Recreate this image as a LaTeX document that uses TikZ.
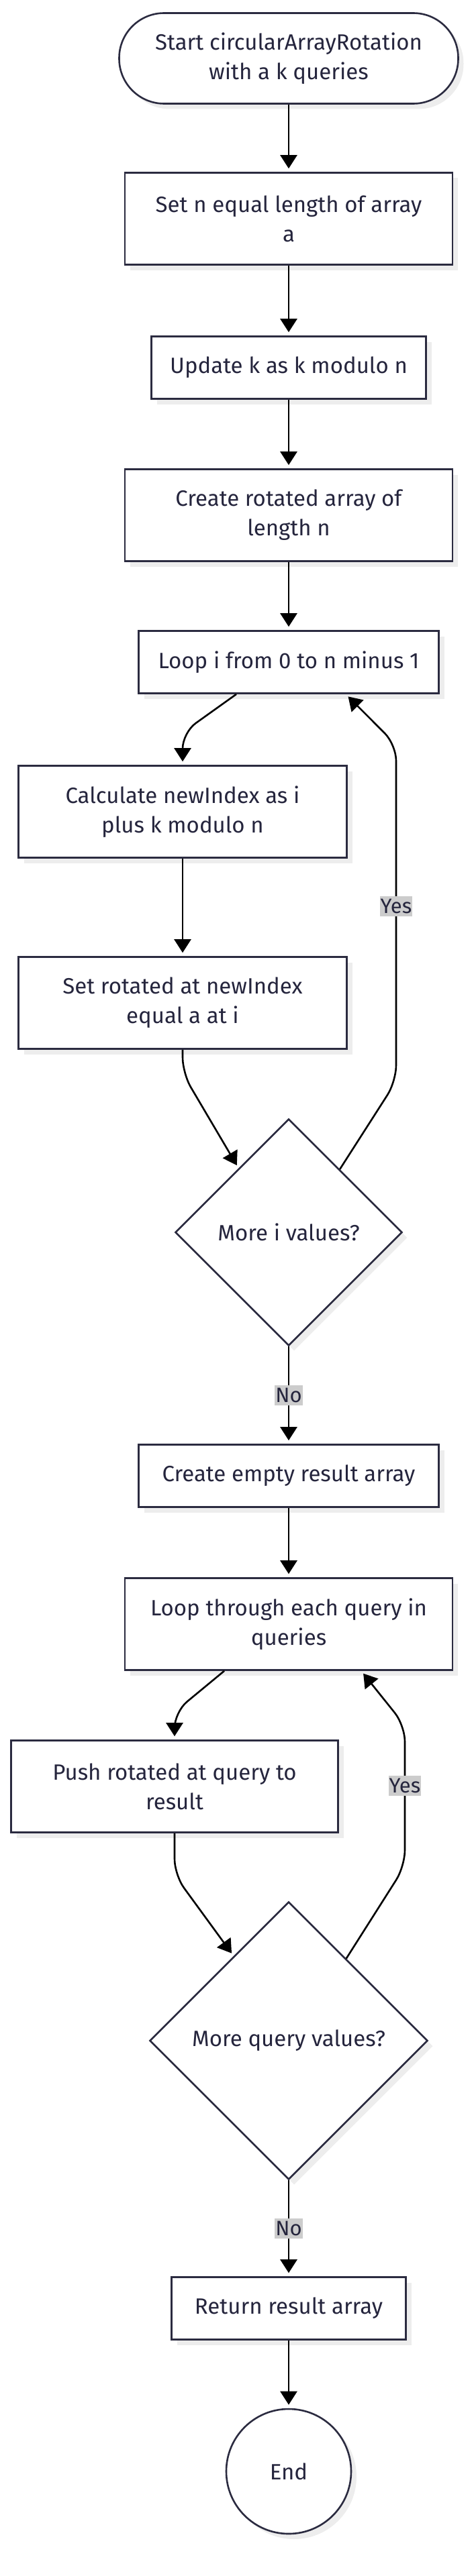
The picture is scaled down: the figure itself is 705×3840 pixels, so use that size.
\documentclass[tikz,border=0pt]{standalone}
\usepackage{fontspec}
\setmainfont{Fira Sans}
\usetikzlibrary{shapes.geometric,arrows.meta,shadows}
\definecolor{nodestroke}{HTML}{2B2B40}
\definecolor{nodetext}{HTML}{25253D}
\definecolor{lblbg}{HTML}{CCCCCC}
\tikzset{
  base/.style={draw=nodestroke, line width=2.6pt, fill=white, text=nodetext,
    font=\fontsize{33}{44}\selectfont, align=center,
    drop shadow={shadow xshift=8pt, shadow yshift=-8pt, fill=black!7, opacity=1}},
  proc/.style={base, rectangle, inner sep=0pt},
  term/.style={base, rectangle, rounded corners=67pt, inner sep=0pt},
  dec/.style={base, diamond, inner sep=0pt, aspect=1},
  endc/.style={base, circle, inner sep=0pt},
  flow/.style={draw=black, line width=2.6pt, -{Triangle[length=20pt,width=25pt]},
    shorten >=5pt, rounded corners=24pt},
  lbl/.style={fill=lblbg, text=nodetext, font=\fontsize{31}{40}\selectfont,
    inner xsep=1pt, inner ysep=4pt, rounded corners=0pt}
}
\begin{document}
\begin{tikzpicture}[x=1pt,y=-1pt]
\useasboundingbox (0,0) rectangle (705,3840);

\node[term, minimum width=505pt, minimum height=135pt] (start) at (430,87) {Start circularArrayRotation\\with a k queries};
\node[proc, minimum width=488pt, minimum height=137pt] (setn) at (430,326) {Set n equal length of array\\a};
\node[proc, minimum width=409pt, minimum height=93pt] (upd) at (430,548) {Update k as k modulo n};
\node[proc, minimum width=488pt, minimum height=137pt] (create) at (430,768) {Create rotated array of\\length n};
\node[proc, minimum width=447pt, minimum height=93pt] (loopi) at (430,987) {Loop i from 0 to n minus 1};
\node[proc, minimum width=489pt, minimum height=137pt] (calc) at (272,1210) {Calculate newIndex as i\\plus k modulo n};
\node[proc, minimum width=489pt, minimum height=137pt] (setrot) at (272,1495) {Set rotated at newIndex\\equal a at i};
\node[dec, minimum width=338pt, minimum height=338pt] (d1) at (430,1837) {More i values?};
\node[proc, minimum width=447pt, minimum height=93pt] (empty) at (430,2200) {Create empty result array};
\node[proc, minimum width=488pt, minimum height=137pt] (loopq) at (430,2421) {Loop through each query in\\queries};
\node[proc, minimum width=487pt, minimum height=137pt] (push) at (260,2663) {Push rotated at query to\\result};
\node[dec, minimum width=414pt, minimum height=414pt] (d2) at (430,3042) {More query values?};
\node[proc, minimum width=349pt, minimum height=93pt] (ret) at (430,3441) {Return result array};
\node[endc, minimum size=186pt] (end) at (430,3684) {End};

\coordinate (a1) at (272,1092);
\coordinate (a2) at (272,1600);
\coordinate (y1a) at (590,1612);
\coordinate (y1b) at (590,1110);
\coordinate (q1) at (260,2552);
\coordinate (q2) at (260,2795);
\coordinate (y2a) at (603,2782);
\coordinate (y2b) at (603,2572);

\draw[flow] (start) -- (setn);
\draw[flow] (setn) -- (upd);
\draw[flow] (upd) -- (create);
\draw[flow] (create) -- (loopi);
\draw[flow] ([xshift=-78pt]loopi.south) -- (a1) -- (calc.north);
\draw[flow] (calc) -- (setrot);
\draw[flow] (setrot.south) -- (a2) -- (d1.128);
\draw[flow] (d1.51) -- (y1a) -- node[lbl, pos=0.52] {Yes} (y1b) -- ([xshift=85pt]loopi.south);
\draw[flow] (d1.south) -- node[lbl] {No} (empty.north);
\draw[flow] (empty) -- (loopq);
\draw[flow] ([xshift=-96pt]loopq.south) -- (q1) -- (push.north);
\draw[flow] (push.south) -- (q2) -- (d2.123);
\draw[flow] (d2.55) -- (y2a) -- node[lbl, pos=0.57] {Yes} (y2b) -- ([xshift=108pt]loopq.south);
\draw[flow] (d2.south) -- node[lbl] {No} (ret.north);
\draw[flow] (ret) -- (end);
\end{tikzpicture}
\end{document}
